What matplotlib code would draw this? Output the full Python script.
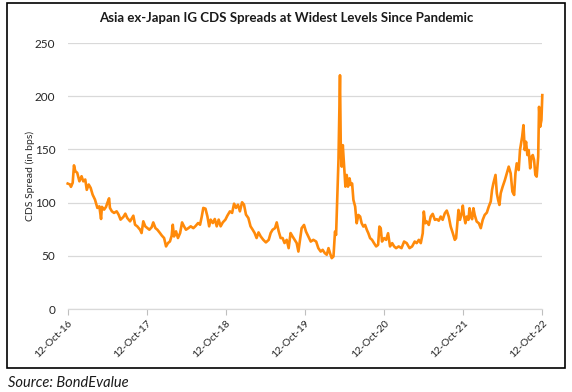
import matplotlib
matplotlib.use("Agg")
import matplotlib.pyplot as plt
from matplotlib.patches import Rectangle
import pandas as pd

title = "Asia ex-Japan IG CDS Spreads at Widest Levels Since Pandemic"
ylabel = "CDS Spread (in bps)"
source = "Source: BondEvalue"

dates = [
    "2016-10-12", "2016-10-23", "2016-10-27", "2016-11-04", "2016-11-10", "2016-11-16",
    "2016-11-25", "2016-12-05", "2016-12-15", "2016-12-23", "2017-01-01", "2017-01-08",
    "2017-01-17", "2017-01-26", "2017-02-04", "2017-02-15", "2017-02-26", "2017-03-07",
    "2017-03-15", "2017-03-19", "2017-03-29", "2017-04-07", "2017-04-13", "2017-04-21",
    "2017-04-25", "2017-05-04", "2017-05-14", "2017-05-26", "2017-06-04", "2017-06-13",
    "2017-06-26", "2017-07-05", "2017-07-14", "2017-07-27", "2017-08-05", "2017-08-11",
    "2017-08-19", "2017-08-29", "2017-09-11", "2017-09-18", "2017-09-26", "2017-10-05",
    "2017-10-15", "2017-10-24", "2017-11-04", "2017-11-11", "2017-11-21", "2017-11-30",
    "2017-12-12", "2017-12-21", "2017-12-31", "2018-01-09", "2018-01-18", "2018-01-27",
    "2018-02-04", "2018-02-09", "2018-02-15", "2018-02-24", "2018-03-05", "2018-03-15",
    "2018-03-24", "2018-04-02", "2018-04-11", "2018-04-22", "2018-05-03", "2018-05-15",
    "2018-05-24", "2018-06-06", "2018-06-15", "2018-06-23", "2018-06-30", "2018-07-10",
    "2018-07-19", "2018-07-27", "2018-08-03", "2018-08-13", "2018-08-22", "2018-08-31",
    "2018-09-09", "2018-09-18", "2018-09-28", "2018-10-10", "2018-10-19", "2018-10-31",
    "2018-11-10", "2018-11-19", "2018-11-28", "2018-12-07", "2018-12-16", "2018-12-26",
    "2019-01-04", "2019-01-13", "2019-01-24", "2019-02-03", "2019-02-13", "2019-02-22",
    "2019-03-03", "2019-03-12", "2019-03-22", "2019-04-03", "2019-04-15", "2019-04-28",
    "2019-05-07", "2019-05-16", "2019-05-27", "2019-06-04", "2019-06-13", "2019-06-22",
    "2019-07-01", "2019-07-10", "2019-07-20", "2019-07-29", "2019-08-07", "2019-08-16",
    "2019-08-26", "2019-09-04", "2019-09-12",
    "2019-09-27", "2019-10-08", "2019-10-17", "2019-10-28", "2019-11-08", "2019-11-20",
    "2019-12-03", "2019-12-13", "2019-12-24", "2020-01-02", "2020-01-12", "2020-01-21",
    "2020-01-29", "2020-02-05", "2020-02-13", "2020-02-21", "2020-02-28", "2020-03-04",
    "2020-03-10", "2020-03-15", "2020-03-19", "2020-03-22", "2020-03-26", "2020-03-30",
    "2020-04-04", "2020-04-10", "2020-04-16", "2020-04-22", "2020-04-28", "2020-05-05",
    "2020-05-11", "2020-05-17", "2020-05-23", "2020-05-31", "2020-06-07", "2020-06-15",
    "2020-06-23", "2020-06-30", "2020-07-08", "2020-07-16", "2020-07-24", "2020-07-31",
    "2020-08-08", "2020-08-17", "2020-08-26", "2020-09-05", "2020-09-14", "2020-09-20",
    "2020-09-26", "2020-10-02", "2020-10-12", "2020-10-21", "2020-10-30", "2020-11-08",
    "2020-11-18", "2020-11-27", "2020-12-06", "2020-12-18", "2020-12-31", "2021-01-12",
    "2021-01-24", "2021-02-06", "2021-02-18", "2021-03-02", "2021-03-11", "2021-03-21",
    "2021-03-30", "2021-04-08", "2021-04-13", "2021-04-20", "2021-04-27", "2021-05-06",
    "2021-05-15", "2021-05-24", "2021-06-03", "2021-06-12", "2021-06-21", "2021-06-30",
    "2021-07-09", "2021-07-19", "2021-07-28", "2021-08-06", "2021-08-15", "2021-08-25",
    "2021-09-03", "2021-09-09", "2021-09-15", "2021-09-20", "2021-09-27", "2021-10-05",
    "2021-10-10", "2021-10-16", "2021-10-22", "2021-10-28", "2021-11-05", "2021-11-10",
    "2021-11-16", "2021-11-22", "2021-11-28", "2021-12-04", "2021-12-13", "2021-12-23",
    "2022-01-01", "2022-01-10", "2022-01-19", "2022-01-29", "2022-02-07", "2022-02-16",
    "2022-02-22", "2022-02-28", "2022-03-10", "2022-03-16", "2022-03-22", "2022-03-28",
    "2022-04-03", "2022-04-12", "2022-04-22", "2022-05-01", "2022-05-10", "2022-05-19",
    "2022-05-27", "2022-06-04", "2022-06-10", "2022-06-16", "2022-06-25", "2022-07-01",
    "2022-07-11", "2022-07-17", "2022-07-23", "2022-07-29", "2022-08-04", "2022-08-10",
    "2022-08-17", "2022-08-23", "2022-08-29", "2022-09-04", "2022-09-10", "2022-09-16",
    "2022-09-23", "2022-09-27", "2022-10-02", "2022-10-08", "2022-10-12",
]

spreads = [
    117.9, 117.0, 114.8, 118.6, 135.0, 129.6,
    128.0, 120.0, 124.8, 120.0, 121.7, 112.0,
    117.0, 113.8, 107.5, 102.8, 95.0, 96.5,
    84.6, 96.0, 93.4, 96.0, 99.7, 104.0,
    95.0, 91.8, 90.3, 91.8, 88.7, 84.0,
    86.5, 89.6, 85.5, 82.4, 85.5, 87.7,
    79.2, 77.7, 74.5, 71.4, 82.4, 77.7,
    76.0, 74.5, 77.0, 81.4, 76.0, 74.5,
    71.4, 68.9, 66.7, 58.8, 62.0, 63.5,
    68.9, 79.2, 68.2, 73.0, 66.7, 71.4,
    81.4, 77.7, 74.5, 76.0, 77.7, 76.0,
    77.7, 80.8, 79.2, 87.0, 95.0, 94.3,
    87.0, 77.7, 84.0, 80.8, 84.6, 77.7,
    84.0, 77.7, 81.4, 84.0, 87.7, 91.8,
    90.3, 99.0, 95.0, 98.0, 91.8, 100.3,
    98.0, 88.7, 85.5, 77.7, 74.5, 71.4,
    66.7, 72.0, 68.2, 65.0, 62.6, 65.0,
    71.4, 74.5, 76.0, 81.4, 73.0, 66.7,
    66.7, 62.0, 65.0, 57.2, 71.4, 68.2,
    65.0, 62.0, 54.0,
    76.0, 79.0, 72.8, 68.0, 63.4, 65.0,
    63.4, 57.2, 54.0, 55.6, 52.5, 51.0,
    57.2, 52.5, 47.8, 49.4, 72.8, 69.7,
    108.8, 140.0, 186.9, 219.7, 146.0, 133.8,
    154.0, 133.8, 115.0, 126.0, 115.0, 122.8,
    116.6, 118.0, 102.5, 96.3, 80.6, 88.4,
    86.9, 80.6, 77.5, 79.0, 74.4, 71.2,
    66.6, 65.0, 61.9, 58.8, 60.3, 77.5,
    76.0, 63.4, 66.6, 65.0, 71.2, 58.8,
    61.9, 58.8, 57.2, 58.8, 57.2, 63.4,
    61.9, 57.2, 58.8, 63.4, 61.9, 65.0,
    61.9, 71.2, 91.6, 80.6, 82.2, 79.0,
    86.9, 89.4, 83.8, 84.4, 83.0, 86.9,
    83.8, 90.0, 92.5, 86.9, 77.5, 71.2,
    65.0, 66.6, 80.6, 93.1, 83.8, 90.0,
    97.2, 86.9, 80.6, 86.9, 83.8, 94.7,
    86.9, 84.4, 94.7, 88.4, 82.2, 80.6,
    76.0, 83.8, 88.4, 90.6, 96.3, 101.0,
    111.9, 118.0, 126.0, 108.8, 102.5, 97.8,
    108.8, 115.0, 121.0, 127.5, 133.8, 127.5,
    110.3, 107.2, 127.5, 136.9, 130.6, 149.4,
    161.9, 172.8, 149.4, 157.2, 144.7, 149.4,
    132.2, 143.1, 144.7, 140.0, 126.0, 124.4,
    143.1, 190.0, 171.2, 177.5, 201.0,
]

x_ticks = ["2016-10-12", "2017-10-12", "2018-10-12", "2019-10-12",
           "2020-10-12", "2021-10-12", "2022-10-12"]
y_ticks = [0, 50, 100, 150, 200, 250]

plt.rcParams['font.family'] = ['Lato', 'DejaVu Sans']

W, H = 572, 392
fig = plt.figure(figsize=(W / 100, H / 100), dpi=100)
ax = fig.add_axes([67.7 / W, (H - 309) / H, (542.3 - 67.7) / W, (309 - 43) / H])

d = pd.to_datetime(dates)
ax.plot(d, spreads, color='#FF8A0A', lw=1.9, solid_joinstyle='round', clip_on=False)

xt = pd.to_datetime(x_ticks)
ax.set_xlim(xt[0], xt[-1])
ax.set_ylim(0, 250)
ax.set_xticks(xt)
ax.set_xticklabels([t.strftime('%d-%b-%y') for t in xt], rotation=45,
                   ha='right', va='top', rotation_mode='anchor', fontsize=7.5,
                   color='#262626')
ax.set_yticks(y_ticks)
ax.set_yticklabels([str(v) for v in y_ticks], fontsize=8.5, color='#262626')
ax.tick_params(axis='y', length=0, pad=9)
ax.tick_params(axis='x', length=4, width=0.8, color='#BFBFBF', pad=3)
ax.grid(axis='y', color='#D9D9D9', lw=0.9)
ax.set_axisbelow(True)
for s in ['top', 'right', 'left']:
    ax.spines[s].set_visible(False)
ax.spines['bottom'].set_color('#D9D9D9')
ax.spines['bottom'].set_linewidth(0.9)

fig.text(30.5 / W, 1 - 176 / H, ylabel, rotation=90, ha='center', va='center',
         fontsize=7.5, color='#262626')
fig.text(286 / W, 1 - 18 / H, title, ha='center', va='center', fontsize=9.5,
         fontweight='bold', color='#1a1a1a')

fig.patches.append(Rectangle((7 / W, (H - 368) / H), (565 - 7) / W, (368 - 3) / H,
                             transform=fig.transFigure, fill=False,
                             edgecolor='black', lw=1.2))
fig.text(8 / W, 1 - 383 / H, source, ha='left', va='center', fontsize=10.5,
         style='italic', color='#1a1a1a')

fig.savefig('out.png', dpi=100)
